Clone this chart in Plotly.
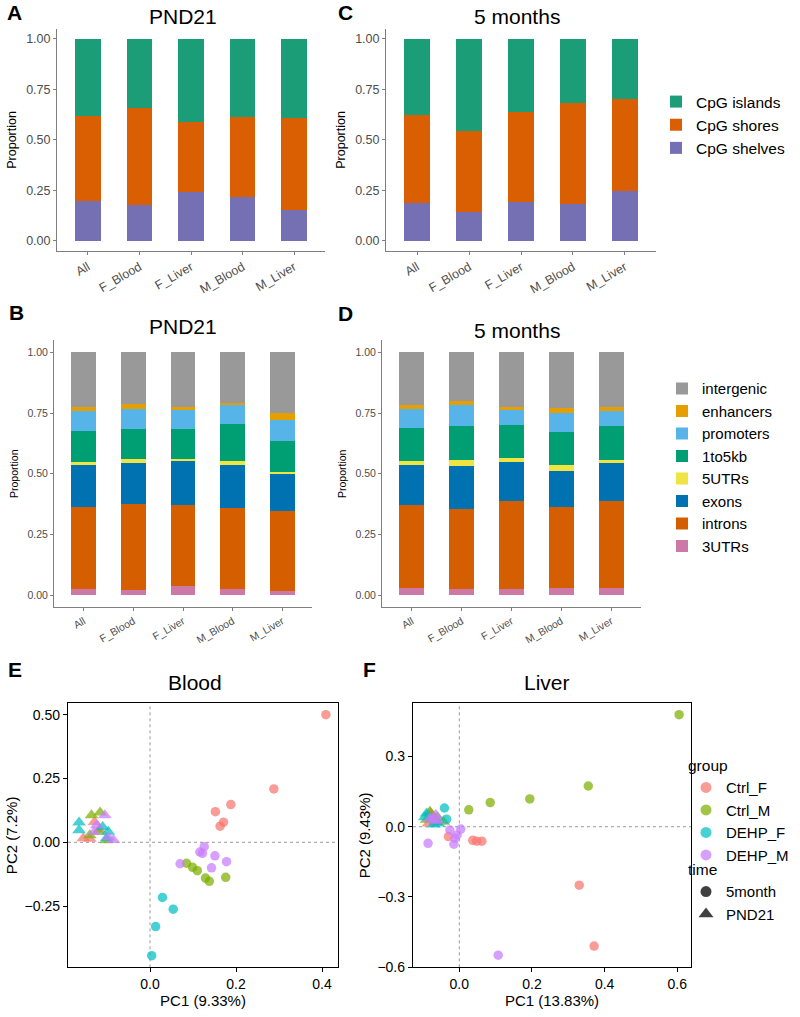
'''
plot.py

Methylation region composition (CpG context, genomic features)
and PCA of blood / liver samples, redrawn with plotly
'''

import plotly.graph_objects as go

# ---- data ----
samples = ["All", "F_Blood", "F_Liver", "M_Blood", "M_Liver"]

# CpG context, stacked bottom -> top
cpg_names = ["CpG shelves", "CpG shores", "CpG islands"]
cpg_colors = ["#7570B3", "#D95F02", "#1B9E77"]
pnd21_cpg = [
    [0.197, 0.179, 0.244, 0.218, 0.151],  # shelves
    [0.421, 0.480, 0.346, 0.395, 0.457],  # shores
    [0.382, 0.341, 0.410, 0.387, 0.392],  # islands
]
month5_cpg = [
    [0.187, 0.143, 0.195, 0.185, 0.249],
    [0.436, 0.402, 0.441, 0.496, 0.451],
    [0.377, 0.455, 0.364, 0.319, 0.300],
]

# genomic features, stacked bottom -> top
feat_names = ["3UTRs", "introns", "exons", "5UTRs", "1to5kb",
              "promoters", "enhancers", "intergenic"]
feat_colors = ["#CC79A7", "#D55E00", "#0072B2", "#F0E442", "#009E73",
               "#56B4E9", "#E69F00", "#999999"]
pnd21_feat = [
    [0.025, 0.021, 0.037, 0.025, 0.016],
    [0.338, 0.353, 0.335, 0.334, 0.329],
    [0.171, 0.170, 0.180, 0.177, 0.155],
    [0.013, 0.016, 0.010, 0.015, 0.006],
    [0.130, 0.123, 0.124, 0.156, 0.128],
    [0.082, 0.084, 0.077, 0.077, 0.087],
    [0.016, 0.019, 0.014, 0.009, 0.029],
    [0.225, 0.214, 0.223, 0.207, 0.250],
]
month5_feat = [
    [0.029, 0.025, 0.025, 0.029, 0.030],
    [0.342, 0.330, 0.362, 0.332, 0.358],
    [0.163, 0.178, 0.160, 0.152, 0.157],
    [0.019, 0.024, 0.019, 0.021, 0.010],
    [0.137, 0.139, 0.133, 0.137, 0.140],
    [0.076, 0.087, 0.063, 0.081, 0.065],
    [0.016, 0.015, 0.015, 0.017, 0.015],
    [0.218, 0.202, 0.223, 0.231, 0.225],
]

# PCA scores
groups = ["Ctrl_F", "Ctrl_M", "DEHP_F", "DEHP_M"]
group_colors = ["#F8766D", "#7CAE00", "#00BFC4", "#C77CFF"]

blood_5m_pc1 = {"Ctrl_F": [0.409, 0.288, 0.188, 0.152, 0.171, 0.163],
                "Ctrl_M": [0.085, 0.099, 0.110, 0.129, 0.138, 0.176],
                "DEHP_F": [0.029, 0.054, 0.013, 0.004],
                "DEHP_M": [0.126, 0.116, 0.122, 0.151, 0.070, 0.178, 0.143]}
blood_5m_pc2 = {"Ctrl_F": [0.500, 0.209, 0.148, 0.120, 0.079, 0.063],
                "Ctrl_M": [-0.082, -0.098, -0.111, -0.140, -0.153, -0.137],
                "DEHP_F": [-0.216, -0.262, -0.330, -0.444],
                "DEHP_M": [-0.017, -0.038, -0.043, -0.053, -0.084, -0.076, -0.100]}
blood_p21_pc1 = {"Ctrl_F": [-0.155, -0.129, -0.140, -0.118],
                 "Ctrl_M": [-0.136, -0.116, -0.140, -0.120, -0.101],
                 "DEHP_F": [-0.165, -0.165, -0.097, -0.101, -0.110],
                 "DEHP_M": [-0.105, -0.124, -0.085, -0.097, -0.130]}
blood_p21_pc2 = {"Ctrl_F": [0.016, 0.080, 0.014, 0.050],
                 "Ctrl_M": [0.106, 0.117, 0.028, 0.041, 0.008],
                 "DEHP_F": [0.078, 0.047, 0.041, 0.016, 0.060],
                 "DEHP_M": [0.106, 0.067, 0.009, 0.020, 0.040]}

liver_5m_pc1 = {"Ctrl_F": [0.330, 0.371, 0.037, 0.048, 0.062, -0.030],
                "Ctrl_M": [0.605, 0.355, 0.194, 0.085, 0.026],
                "DEHP_F": [-0.041, -0.035],
                "DEHP_M": [0.107, -0.086, -0.015, -0.026, 0.004, -0.006, -0.012]}
liver_5m_pc2 = {"Ctrl_F": [-0.250, -0.510, -0.058, -0.062, -0.062, -0.042],
                "Ctrl_M": [0.479, 0.174, 0.119, 0.103, 0.072],
                "DEHP_F": [0.080, 0.032],
                "DEHP_M": [-0.549, -0.071, -0.075, -0.014, -0.010, -0.035, -0.049]}
liver_p21_pc1 = {"Ctrl_F": [-0.085, -0.075, -0.065, -0.080],
                 "Ctrl_M": [-0.081, -0.044, -0.090, -0.060],
                 "DEHP_F": [-0.090, -0.058, -0.095, -0.070],
                 "DEHP_M": [-0.072, -0.065, -0.080, -0.060]}
liver_p21_pc2 = {"Ctrl_F": [0.014, 0.045, 0.020, 0.060],
                 "Ctrl_M": [0.064, 0.021, 0.030, 0.040],
                 "DEHP_F": [0.056, 0.014, 0.040, 0.010],
                 "DEHP_M": [0.028, 0.050, 0.035, 0.025]}

FONT = "Liberation Sans, Arial, Helvetica, sans-serif"
MINUS = "\u2212"


def px_x(px):
    return px / 800


def px_y(py):
    return 1 - py / 1017


fig = go.Figure()


# helper functions
def add_stack(names, colors, values, xa, ya, legend, show):
    '''adds one stacked bar panel'''
    for name, col, vals in zip(names, colors, values):
        fig.add_trace(go.Bar(x=samples, y=vals, name=name, marker_color=col,
                             marker_line_width=0, width=0.5, xaxis=xa, yaxis=ya,
                             legend=legend, showlegend=show))


def add_pca(pc1_5m, pc2_5m, pc1_p21, pc2_p21, xa, ya):
    '''adds PCA points, circles for 5month and triangles for PND21'''
    for g, col in zip(groups, group_colors):
        fig.add_trace(go.Scatter(x=pc1_p21[g], y=pc2_p21[g], mode="markers",
                                 marker=dict(symbol="triangle-up", size=12, color=col, opacity=0.72),
                                 xaxis=xa, yaxis=ya, showlegend=False))
    for g, col in zip(groups, group_colors):
        fig.add_trace(go.Scatter(x=pc1_5m[g], y=pc2_5m[g], mode="markers",
                                 marker=dict(symbol="circle", size=9.5, color=col, opacity=0.72),
                                 xaxis=xa, yaxis=ya, showlegend=False))


add_stack(cpg_names, cpg_colors, pnd21_cpg, "x", "y", "legend", True)
add_stack(cpg_names, cpg_colors, month5_cpg, "x2", "y2", "legend", False)
add_stack(feat_names, feat_colors, pnd21_feat, "x3", "y3", "legend2", True)
add_stack(feat_names, feat_colors, month5_feat, "x4", "y4", "legend2", False)
add_pca(blood_5m_pc1, blood_5m_pc2, blood_p21_pc1, blood_p21_pc2, "x5", "y5")
add_pca(liver_5m_pc1, liver_5m_pc2, liver_p21_pc1, liver_p21_pc2, "x6", "y6")

# legend entries for the PCA panels
for g, col in zip(groups, group_colors):
    fig.add_trace(go.Scatter(x=[None], y=[None], mode="markers", name=g,
                             marker=dict(symbol="circle", size=11, color=col, opacity=0.72),
                             xaxis="x6", yaxis="y6", legend="legend3"))
fig.add_trace(go.Scatter(x=[None], y=[None], mode="markers", name="5month",
                         marker=dict(symbol="circle", size=11, color="black", opacity=0.75),
                         xaxis="x6", yaxis="y6", legend="legend4"))
fig.add_trace(go.Scatter(x=[None], y=[None], mode="markers", name="PND21",
                         marker=dict(symbol="triangle-up", size=13, color="black", opacity=0.75),
                         xaxis="x6", yaxis="y6", legend="legend4"))

# ---- axes ----
def bar_xaxis(dom, size):
    return dict(domain=dom, type="category", range=[-0.6, 4.6], showline=True,
                linecolor="#7f7f7f", linewidth=1, ticks="outside", ticklen=3,
                tickcolor="#7f7f7f", tickangle=-30, showgrid=False, zeroline=False,
                tickfont=dict(size=size, color="#4d4d4d"))


def bar_yaxis(dom, anchor, size):
    return dict(domain=dom, anchor=anchor, range=[-0.05, 1.05],
                tickvals=[0, 0.25, 0.5, 0.75, 1],
                ticktext=["0.00", "0.25", "0.50", "0.75", "1.00"],
                showline=True, linecolor="#7f7f7f", linewidth=1, ticks="outside",
                ticklen=3, tickcolor="#7f7f7f", showgrid=False, zeroline=False,
                tickfont=dict(size=size, color="#4d4d4d"),
                title=dict(text="Proportion", font=dict(size=size, color="black"), standoff=6))


def pca_axis(dom, rng, vals, text, title, anchor):
    return dict(domain=dom, anchor=anchor, range=rng, tickvals=vals, ticktext=text,
                showline=True, mirror=True, linecolor="black", linewidth=1.3,
                ticks="outside", ticklen=4, tickcolor="black", showgrid=False,
                zeroline=False, tickfont=dict(size=14, color="black"),
                title=dict(text=title, font=dict(size=15, color="black"), standoff=3))


top_y = [px_y(253), px_y(29)]
mid_y = [px_y(612), px_y(343)]
bot_y = [px_y(975), px_y(709)]

fig.update_layout(
    xaxis=dict(bar_xaxis([px_x(57), px_x(325)], 12.5), anchor="y"),
    yaxis=bar_yaxis(top_y, "x", 12.5),
    xaxis2=dict(bar_xaxis([px_x(386), px_x(656)], 12.5), anchor="y2"),
    yaxis2=bar_yaxis(top_y, "x2", 12.5),
    xaxis3=dict(bar_xaxis([px_x(54), px_x(312)], 10.5), anchor="y3"),
    yaxis3=bar_yaxis(mid_y, "x3", 10.5),
    xaxis4=dict(bar_xaxis([px_x(382), px_x(641)], 10.5), anchor="y4"),
    yaxis4=bar_yaxis(mid_y, "x4", 10.5),
    xaxis5=pca_axis([px_x(68), px_x(338)], [-0.1907, 0.4372], [0, 0.2, 0.4],
                    ["0.0", "0.2", "0.4"], "PC1 (9.33%)", "y5"),
    yaxis5=pca_axis(bot_y, [-0.4897, 0.544], [-0.25, 0, 0.25, 0.5],
                    [MINUS + "0.25", "0.00", "0.25", "0.50"], "PC2 (7.2%)", "x5"),
    xaxis6=pca_axis([px_x(413), px_x(691)], [-0.1275, 0.6377], [0, 0.2, 0.4, 0.6],
                    ["0.0", "0.2", "0.4", "0.6"], "PC1 (13.83%)", "y6"),
    yaxis6=pca_axis(bot_y, [-0.601, 0.527], [-0.6, -0.3, 0, 0.3],
                    [MINUS + "0.6", MINUS + "0.3", "0.0", "0.3"], "PC2 (9.43%)", "x6"),
)

# dotted reference lines through the origin
for xa, ya in (("x5", "y5"), ("x6", "y6")):
    fig.add_shape(type="line", xref=xa, yref=ya + " domain", x0=0, x1=0, y0=0, y1=1,
                  line=dict(color="#9a9a9a", width=1, dash="dot"), layer="below")
    fig.add_shape(type="line", xref=xa + " domain", yref=ya, x0=0, x1=1, y0=0, y1=0,
                  line=dict(color="#9a9a9a", width=1, dash="dot"), layer="below")

# panel titles and letters
titles = [("PND21", 183, 17), ("5 months", 517, 17), ("PND21", 183, 329),
          ("5 months", 517, 333), ("Blood", 195, 688), ("Liver", 547, 688)]
for text, x, y in titles:
    fig.add_annotation(text=text, x=px_x(x), y=px_y(y), xref="paper", yref="paper",
                       xanchor="center", yanchor="middle", showarrow=False,
                       font=dict(size=21, color="black"))
letters = [("A", 14, 13), ("C", 345, 13), ("B", 16, 315), ("D", 345, 316),
           ("E", 15, 675), ("F", 369, 675)]
for text, x, y in letters:
    fig.add_annotation(text="<b>" + text + "</b>", x=px_x(x), y=px_y(y), xref="paper",
                       yref="paper", xanchor="center", yanchor="middle", showarrow=False,
                       font=dict(size=21, color="black"))

fig.update_layout(
    width=800, height=1017, margin=dict(l=0, r=0, t=0, b=0),
    barmode="stack", bargap=0.5,
    plot_bgcolor="white", paper_bgcolor="white",
    font=dict(family=FONT, color="black"),
    legend=dict(x=px_x(656), y=px_y(126), xanchor="left", yanchor="middle",
                traceorder="reversed", font=dict(size=15.5), bgcolor="rgba(0,0,0,0)"),
    legend2=dict(x=px_x(662), y=px_y(471), xanchor="left", yanchor="middle",
                 traceorder="reversed", font=dict(size=15), bgcolor="rgba(0,0,0,0)"),
    legend3=dict(x=px_x(686), y=px_y(757), xanchor="left", yanchor="top",
                 title=dict(text="group", font=dict(size=15.5)), font=dict(size=15),
                 bgcolor="rgba(0,0,0,0)"),
    legend4=dict(x=px_x(686), y=px_y(862), xanchor="left", yanchor="top",
                 title=dict(text="time", font=dict(size=15.5)), font=dict(size=15),
                 bgcolor="rgba(0,0,0,0)"),
)

# the page body has a default 8px margin; drop it so the figure fills the window
fig.write_html("out.html", config={"displayModeBar": False},
               post_script="document.body.style.margin = '0';")
